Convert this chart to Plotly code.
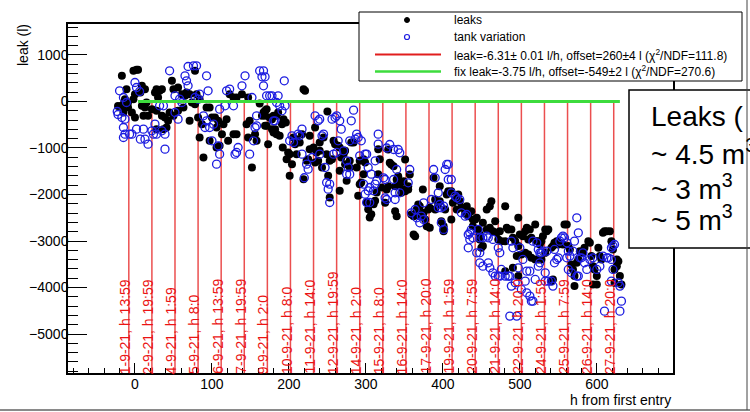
import plotly.graph_objects as go

# ---------------- data ----------------
leaks_h = [-17, -11, -13, -17, -9, -15, -2, 0, -4, 0, -2, 2, 4, 9, 13, 7, 9, 13, 15, 17, 11, 22, 26, 28, 32, 35, 30, 28, 35, 39,
           43, 41, 28, 37, 45, 50, 48, 50, 56, 61, 65, 67, 71, 74, 78, 78, 80, 84, 82, 87, 93, 97, 100, 104, 108, 115, 119, 84, 89, 97,
           106, 113, 110, 106, 121, 128, 132, 123, 128, 132, 139, 147, 145, 149, 147, 152, 71, 63, 56, -15, -9, -22, 158, 156,
           162, 167, 169, 165, 169, 171, 175, 178, 180, 184, 186, 169, 171, 173, 178, 182, 180, 184, 188, 191, 193, 196, 192, 197,
           199, 201, 204, 201, 206, 210, 208, 210, 214, 217, 219, 221, 219, 223, 225, 227, 227, 234, 232, 236, 234, 238, 240, 243,
           240, 245, 249, 253, 251, 256, 250, 253, 258, 260, 264, 266, 266, 268, 266, 271, 273, 273, 275, 279, 281, 284, 279, 288,
           292, 297, 299, 297, 292, 290, 294, 301, 303, 305, 307, 310, 312, 314, 316, 318, 320, 316,
           329, 331, 333, 336, 329, 327, 325, 338, 338, 342, 344, 349, 351, 349, 346, 351, 355, 357, 355, 359, 362, 364, 362, 366,
           368, 370, 370, 374, 375, 377, 379, 383, 381, 383, 388, 390, 390, 394, 396, 396, 398, 401, 401, 403, 405, 407, 411, 411,
           413, 416, 418, 420, 422, 424, 431, 429, 433, 437, 439, 442, 439, 444, 446, 448, 452, 457, 457, 461, 463, 450, 452, 448,
           461, 465, 468, 470, 472, 474, 476, 481, 483, 481, 340, 340,
           481, 485, 489, 491, 494, 498, 500, 504, 507, 509, 513, 511, 515, 520, 522, 524, 526, 528, 530, 533, 535, 537, 533, 528,
           524, 520, 515, 511, 507, 502, 498, 496, 498, 541, 543, 545, 548, 550, 552, 556, 558, 561, 563, 565, 567, 569, 571, 571,
           574, 576, 578, 582, 584, 589, 591, 593, 595, 597, 600, 602, 604, 606, 608, 610, 613, 617, 619, 621, 623, 626, 626, 628,
           630, 632, 623, 600, 595, 543, 541, 491]
leaks_l = [552, 265, 50, -93, -129, -237, 50, 158, -237, -344, 659, 681, 681, 337, 265, 194, -93, -129, -22, -308, -308, -165, 194, 265, 229, 265, 86, -201, -308, -344,
           -416, -559, -595, -595, -237, -308, 444, 265, 301, 158, 122, 194, 158, -22, -57, 659, 158, 50, -344, -487, -129, -129, -344, -344, -416, -487, -380, -774, -1204, -846,
           -559, -702, -953, -989, -846, -702, -702, 158, 86, 86, 158, 86, -487, -416, -774, -1419, -416, -129, -201, -57, -22, -95, -846, -702,
           -43, -237, -308, -308, -201, -165, -344, -380, -308, -308, -237, -523, -523, -917, -595, -595, -667, -702, -738, -487, -380, -452, -989, -1240,
           -1096, -1132, -1347, -1598, -774, -810, -917, -1132, -882, -702, 265, 229, -1670, -1276, -1240, -1025, -738, -559, -989, -1096, -1312, -1276, -1061, -1419,
           -882, -774, -1132, -1276, -1598, -1240, -215, -2064, -846, -917, -953, -989, -1491, -1204, -1921, -1132, -1061, -1347, -1706, -1276, -882, -882, -1419, -1419,
           -1276, -1240, -1312, -1562, -1777, -2028, -1742, -2172, -2315, -2494, -2423, -2208, -2136, -1957, -1025, -1240, -1849, -1562,
           -1032, -1319, -1354, -1390, -1820, -1892, -2179, -1820, -2358, -1605, -1784, -1713, -1247, -1892, -1964, -1928, -1892, -1570, -1820, -2430, -2465, -2895, -2860, -2322,
           -2215, -2250, -2465, -1892, -2394, -2537, -2680, -2716, -2322, -2286, -1641, -2107, -2322, -2215, -2143, -1820, -2573, -2680, -2788, -2322, -1999, -1928, -1928, -2537,
           -2179, -2107, -2322, -1999, -2143, -2286, -2250, -2394, -2465, -2358, -2537, -2537, -2680, -2501, -2752, -2860, -2609, -2752, -2322, -2250, -2143, -3146, -3110, -2967,
           -2716, -2788, -2573, -2824, -2967, -2788, -3003, -3003, -2716, -3648, -2465, -1677,
           -2250, -2752, -2752, -2931, -3003, -2501, -2860, -2895, -2788, -2716, -2752, -2967, -2931, -2645, -3003, -3003, -3075, -3003, -2895, -2752, -2788, -2752, -3254, -3397,
           -3397, -3397, -3361, -3290, -3254, -3290, -3110, -3325, -3755, -3146, -3110, -3039, -3003, -3075, -3039, -3075, -2645, -2645, -3110, -3182, -3505, -3612, -3755, -3970,
           -3469, -3397, -3218, -3254, -3146, -3003, -3039, -3325, -3541, -3612, -3755, -3146, -3325, -3397, -2824, -2788, -2788, -2788, -3003, -3182, -3612, -3541, -3397, -3433,
           -3755, -3934, -3899, -3934, -3934, -3827, -3863, -3576]

tank_h = [-20, -15, -11, -17, -13, -15, -13, -7, -4, 0, 2, 6, 11, 7, 13, 17, 22, 24, 28, 26, 32, 37, 35, 39, 39, 45, 52, 58, 61, 65,
          67, 69, 69, 76, 80, 78, 82, 84, 93, 95, 89, 93, 91, 97, 102, 100, 108, 110, 106, 110, 117, 119, 123, 128, 134, 132, 130, 139, 143, 149,
          154, 152, 52, 56, -15, 2, -23, -22,
          162, 167, 165, 169, 167, 171, 175, 178, 186, 184, 180, 182, 188, 191, 195, 194, 158, 158, 156, 201, 204, 206, 212, 217, 214, 217,
          220, 223, 225, 230, 234, 238, 240, 243, 245, 240, 247, 251, 253, 253, 249, 256, 260, 262, 266, 268, 264, 262, 258, 271,
          284, 281, 279, 286, 288, 290, 294, 292, 299, 301, 297, 299, 303, 305, 307, 310, 312, 314, 316, 316, 312, 305, 301, 303,
          277, 275, 279, 275,
          331, 327, 336, 342, 344, 323, 325, 336, 340, 338, 338, 325, 327, 344, 357, 355, 359, 364, 366, 370, 372, 375, 375, 385,
          388, 390, 394, 394, 398, 401, 396, 398, 401, 403, 405, 407, 407, 411, 411, 416, 418, 422, 424, 429, 431, 435, 437, 433,
          435, 433, 439, 446, 448, 452, 457, 459, 444, 448, 448, 452, 459, 461, 465, 468, 472, 474, 476, 481, 474, 472, 465, 485,
          489, 491, 487, 489, 494, 498, 500, 504, 509, 513, 507, 502, 509, 513, 515, 517, 520, 517, 522, 524, 526, 528, 530, 535,
          524, 526, 533, 537, 541, 543, 545, 548, 550, 552, 554, 556, 558, 561, 563, 561, 565, 563, 567, 569, 571, 574, 576, 578,
          580, 582, 584, 587, 591, 595, 600, 604, 608, 613, 615, 619, 621, 623, 619, 621, 619, 628, 630, 632, 630, 610, 496, 487,
          576, 574, 545, 533]
tank_l = [229, 86, -22, -344, -380, -559, -702, -702, -702, 408, 301, 215, -595, -810, -810, -917, -631, -702, -702, -487, -93, -93, -631, -702, -1025, 659, 122, 50, -22, 552,
          444, 337, 752, 767, 767, 86, 50, 158, 552, 229, -308, -416, -559, -559, -487, -846, -953, -1132, -1347, -165, -93, 229, 265, -93, -989, -1096, -1132, 337, 552, -1132,
          -846, 86, -237, -380, -774, -595, -215, -280,
          659, 659, 530, 530, 337, 122, 122, 122, 122, -22, -416, -416, -93, -201, -93, 444, -308, -523, -559, -846, -738, -882, -702, -595, -738, -1132,
          -1640, -1347, -1455, -1204, -308, -416, -380, -738, -702, -1132, -1419, -1885, -2172, -1777, -1742, -380, -344, -308, -416, -595, -846, -1096, -1132, -1061,
          -186, -416, -846, -810, -702, -774, -846, -1168, -1132, -1132, -1777, -1993, -1921, -1849, -1562, -1921, -1777, -1706, -702, -917, -1276, -2172, -2172, -1419,
          -1419, -1562, -1562, -1276,
          -925, -1000, -1032, -1032, -1104, -1641, -1677, -1677, -1462, -1964, -2107, -2071, -2107, -1964, -1462, -1749, -2394, -2322, -2501, -2609, -2465, -2179, -2537, -2107,
          -1462, -1641, -2286, -1964, -2286, -2250, -2215, -2609, -2752, -1462, -1354, -1354, -1677, -1677, -1964, -2035, -2071, -2107, -2394, -2465, -2430, -2824, -2752, -2860,
          -2967, -3146, -2931, -2752, -2931, -2931, -2895, -2931, -3254, -3254, -3469, -3541, -3469, -3576, -3684, -3755, -3755, -3755, -3612, -3755, -3254, -3146, -2967, -3755,
          -3003, -3146, -3755, -3970, -3899, -3576, -3146, -3397, -3648, -3648, -3863, -4042, -4114, -4185, -4293, -4293, -3827, -3003, -3039, -3182, -3254, -3254, -3218, -3218,
          -3541, -3469, -3863, -3863, -3863, -3970, -3469, -3397, -3361, -3003, -2931, -2895, -2931, -3039, -3218, -3361, -3325, -3612, -3684, -3218, -3003, -2501, -2824, -3361,
          -3361, -3254, -3469, -3612, -3397, -3361, -3612, -3541, -3325, -3361, -3361, -3146, -3110, -3075, -3397, -3612, -3863, -3899, -3970, -4293, -4508, -4508, -4615, -4615,
          -3755, -3755, -3182, -3684]

day_h = [-8, 22, 52, 82, 112, 142, 172, 202, 232, 262, 292, 322, 352, 382, 412, 442, 472, 502, 532, 562, 592, 622]
day_labels = ["1-9-21, h 13:59", "2-9-21, h 19:59", "4-9-21, h 1:59", "5-9-21, h 8:0", "6-9-21, h 13:59",
              "7-9-21, h 19:59", "9-9-21, h 2:0", "10-9-21, h 8:0", "11-9-21, h 14:0", "12-9-21, h 19:59",
              "14-9-21, h 2:0", "15-9-21, h 8:0", "16-9-21, h 14:0", "17-9-21, h 20:0", "19-9-21, h 1:59",
              "20-9-21, h 7:59", "21-9-21, h 14:0", "22-9-21, h 20:0", "24-9-21, h 1:59", "25-9-21, h 7:59",
              "26-9-21, h 14:0", "27-9-21, h 20:0"]
fix_h = [4, 630]
fix_l = [0, 0]

legend_names = ["leaks", "tank variation",
                "leak=-6.31\u00b1 0.01 l/h, offset=260\u00b14 l (\u03c7<sup>2</sup>/NDF=111.8)",
                "fix leak=-3.75 l/h, offset=-549\u00b12 l (\u03c7<sup>2</sup>/NDF=270.6)"]
box_lines = ["Leaks (", "~ 4.5 m<sup>3</sup>", "~ 3 m<sup>3</sup>", "~ 5 m<sup>3</sup>"]

x_range = [-87, 699]
y_range = [-5838, 1666]

# ---------------- layout geometry (pixels) ----------------
W, H = 750, 412
L, R, T, B = 68, 673, 24, 373
FONT = "Liberation Sans, Arial, sans-serif"
RED = "rgba(228,20,20,0.75)"
GREEN = "#3ddc3d"
BLUE = "#1c1ce0"


def px(x):
    return (x - L) / (R - L)


def py(y):
    return (B - y) / (B - T)


fig = go.Figure()

# red day markers
vx, vy = [], []
for d in day_h:
    vx += [d, d, None]
    vy += [0, y_range[0], None]
fig.add_trace(go.Scatter(x=vx, y=vy, mode="lines", line=dict(color=RED, width=1.5),
                         showlegend=False, hoverinfo="skip"))

fig.add_trace(go.Scatter(x=leaks_h, y=leaks_l, mode="markers", name="leaks",
                         marker=dict(color="black", size=8, symbol="circle"), showlegend=False))
fig.add_trace(go.Scatter(x=tank_h, y=tank_l, mode="markers", name="tank variation",
                         marker=dict(color=BLUE, size=8, symbol="circle-open", line=dict(width=1.3, color=BLUE)),
                         showlegend=False))
fig.add_trace(go.Scatter(x=fix_h, y=fix_l, mode="lines", line=dict(color=GREEN, width=3),
                         showlegend=False, hoverinfo="skip"))

annotations = []
for d, lab in zip(day_h, day_labels):
    annotations.append(dict(x=d, y=y_range[0], xref="x", yref="y", text=lab, showarrow=False,
                            textangle=-90, xanchor="center", yanchor="bottom", xshift=-4, yshift=-3,
                            font=dict(family=FONT, size=14, color="rgb(235,20,20)")))

# axis titles
annotations.append(dict(x=px(23), y=py(22), xref="paper", yref="paper", text="leak (l)", showarrow=False,
                        textangle=-90, xanchor="center", yanchor="top", font=dict(family=FONT, size=14, color="black")))
annotations.append(dict(x=px(673), y=py(390), xref="paper", yref="paper", text="h from first entry", showarrow=False,
                        xanchor="right", yanchor="top", font=dict(family=FONT, size=14, color="black")))

shapes = []
# legend box
shapes.append(dict(type="rect", xref="paper", yref="paper", x0=px(359), x1=px(742), y0=py(81), y1=py(12),
                   line=dict(color="black", width=1), fillcolor="white", layer="above"))
rows = [20, 37, 54.5, 71.5]
shapes.append(dict(type="circle", xref="paper", yref="paper", x0=px(404.5), x1=px(409.5), y0=py(rows[0] + 2.5),
                   y1=py(rows[0] - 2.5), fillcolor="black", line=dict(color="black", width=1), layer="above"))
shapes.append(dict(type="circle", xref="paper", yref="paper", x0=px(404.5), x1=px(409.5), y0=py(rows[1] + 2.5),
                   y1=py(rows[1] - 2.5), fillcolor="white", line=dict(color=BLUE, width=1.2), layer="above"))
shapes.append(dict(type="line", xref="paper", yref="paper", x0=px(375), x1=px(441), y0=py(rows[2]), y1=py(rows[2]),
                   line=dict(color="rgb(225,30,30)", width=2), layer="above"))
shapes.append(dict(type="line", xref="paper", yref="paper", x0=px(375), x1=px(441), y0=py(rows[3]), y1=py(rows[3]),
                   line=dict(color=GREEN, width=2.5), layer="above"))
for name, r in zip(legend_names, rows):
    annotations.append(dict(x=px(452), y=py(r), xref="paper", yref="paper", text=name, showarrow=False,
                            xanchor="left", yanchor="middle", font=dict(family=FONT, size=12, color="black")))

# text box on the right
shapes.append(dict(type="rect", xref="paper", yref="paper", x0=px(629), x1=px(780), y0=py(248), y1=py(90),
                   line=dict(color="black", width=1.5), fillcolor="white", layer="above"))
for t, yy in zip(box_lines, [116, 152, 187, 218]):
    annotations.append(dict(x=px(649), y=py(yy), xref="paper", yref="paper", text=t, showarrow=False,
                            xanchor="left", yanchor="middle", font=dict(family=FONT, size=28, color="black")))

# slide borders
shapes.append(dict(type="line", xref="paper", yref="paper", x0=px(0), x1=px(750), y0=py(410), y1=py(410),
                   line=dict(color="#8a8a8a", width=2), layer="above"))
shapes.append(dict(type="line", xref="paper", yref="paper", x0=px(747), x1=px(747), y0=py(0), y1=py(410),
                   line=dict(color="#444444", width=1), layer="above"))

axis_common = dict(showline=True, linecolor="black", linewidth=1.5, mirror=True, showgrid=False, zeroline=False,
                   ticks="inside", tickcolor="black", tickwidth=1.2,
                   tickfont=dict(family=FONT, size=14, color="black"))

fig.update_layout(
    width=W, height=H, autosize=False,
    margin=dict(l=L, r=W - R, t=T, b=H - B, pad=0),
    paper_bgcolor="white", plot_bgcolor="white",
    font=dict(family=FONT, color="black"),
    xaxis=dict(range=x_range, dtick=100, tick0=0, ticklen=10, ticklabelstandoff=-3,
               minor=dict(dtick=20, tick0=0, ticklen=5, ticks="inside", tickcolor="black", tickwidth=1),
               **axis_common),
    yaxis=dict(range=y_range, dtick=1000, tick0=0, ticklen=19, ticklabelstandoff=-5,
               minor=dict(dtick=200, tick0=0, ticklen=10, ticks="inside", tickcolor="black", tickwidth=1),
               **axis_common),
    annotations=annotations,
    shapes=shapes,
    showlegend=False,
)

fig.write_html("out.html", config={"displayModeBar": False},
               post_script="document.body.style.margin='0px';document.body.style.overflow='hidden';")
